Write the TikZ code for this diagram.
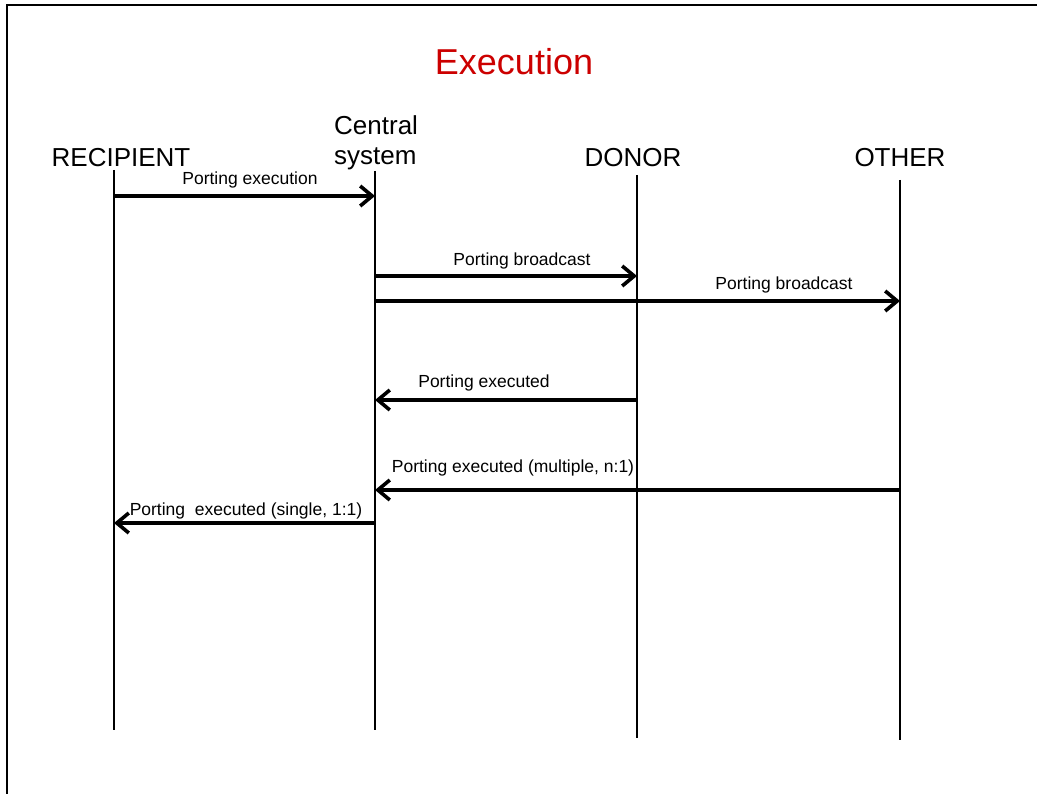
\documentclass[tikz,border=0pt]{standalone}
\usepackage{fontspec}
\setmainfont{Liberation Sans}
\usetikzlibrary{arrows.meta}
\definecolor{titlered}{RGB}{204,0,0}
\begin{document}
\begin{tikzpicture}[x=1pt,y=-1pt,
  head/.style={anchor=base,inner sep=0pt,font=\fontsize{26}{30}\selectfont},
  msglabel/.style={anchor=base,inner sep=0pt,font=\fontsize{17.5}{21}\selectfont},
  lifeline/.style={line width=1.3pt},
  msg/.style={line width=3.8pt,-{Straight Barb[length=12pt,width=20pt,line width=3.6pt]}},
  frameline/.style={line width=2.8pt}]
\useasboundingbox (0,0) rectangle (1047,794);
% frame (only left and top edges visible)
\coordinate (fA) at (7,794);
\coordinate (fB) at (7,5);
\coordinate (fC) at (1037,5);
\draw[frameline] (fA) -- (fB) -- (fC);
% title
\node[anchor=base,inner sep=0pt,text=titlered,font=\fontsize{36}{40}\selectfont] (title) at (514,75) {Execution};
% heads
\node[head] (recH) at (121,167) {RECIPIENT};
\node[head,align=left,anchor=north west] (cenH) at (334,115) {Central\\system};
\node[head] (donH) at (633,167) {DONOR};
\node[head] (othH) at (900,167) {OTHER};
% lifelines
\coordinate (rT) at (114,170); \coordinate (rB) at (114,730);
\coordinate (cT) at (375,171); \coordinate (cB) at (375,730);
\coordinate (dT) at (637,175); \coordinate (dB) at (637,738);
\coordinate (oT) at (900,180); \coordinate (oB) at (900,740);
\draw[lifeline] (rT) -- (rB);
\draw[lifeline] (cT) -- (cB);
\draw[lifeline] (dT) -- (dB);
\draw[lifeline] (oT) -- (oB);
% message points
\coordinate (r1) at (114,196); \coordinate (c1) at (375,196);
\coordinate (c2) at (375,276); \coordinate (d2) at (637,276);
\coordinate (c3) at (375,301); \coordinate (o3) at (900,301);
\coordinate (d4) at (637,400); \coordinate (c4) at (375,400);
\coordinate (o5) at (900,490); \coordinate (c5) at (375,490);
\coordinate (c6) at (375,523); \coordinate (r6) at (114,523);
% messages
\draw[msg] (r1) -- (c1);
\node[msglabel] (l1) at (250,185) {Porting execution};
\draw[msg] (c2) -- (d2);
\node[msglabel] (l2) at (522,266) {Porting broadcast};
\draw[msg] (c3) -- (o3);
\node[msglabel] (l3) at (784,290) {Porting broadcast};
\draw[msg] (d4) -- (c4);
\node[msglabel] (l4) at (484,388) {Porting executed};
\draw[msg] (o5) -- (c5);
\node[msglabel] (l5) at (513,472) {Porting executed (multiple, n:1)};
\draw[msg] (c6) -- (r6);
\node[msglabel] (l6) at (246,515) {Porting\ \ executed (single, 1:1)};
\end{tikzpicture}
\end{document}
